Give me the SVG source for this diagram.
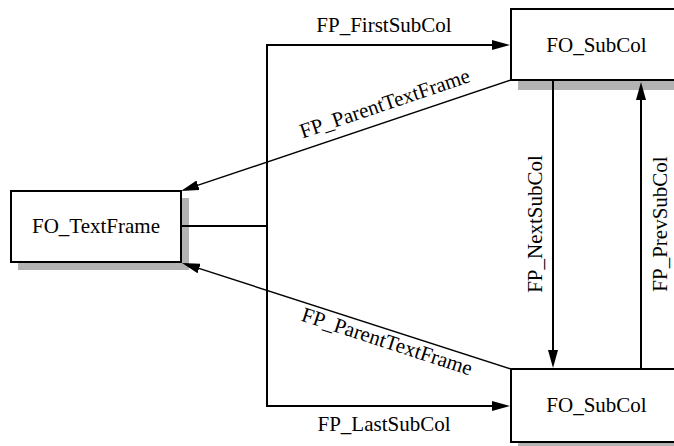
<svg xmlns="http://www.w3.org/2000/svg" width="674" height="446" viewBox="0 0 674 446">
<defs>
<marker id="ah" viewBox="0 0 18 10" refX="14" refY="5" markerWidth="18" markerHeight="10" markerUnits="userSpaceOnUse" orient="auto-start-reverse"><path d="M0,0 L18,5 L0,10 z" fill="#000"/></marker>
</defs>
<style>
.shadow{fill:#b3b3b3}
.box{fill:#fff;stroke:#000;stroke-width:2}
.t{font-size:21px;fill:#000;text-anchor:middle}
.c{fill:none;stroke:#000;stroke-width:2}
.d{fill:none;stroke:#000;stroke-width:1.4}
</style>
<rect width="674" height="446" fill="#fff"/>
<g font-family="'Liberation Serif', 'DejaVu Serif', serif">
<g id="FO_TextFrame">
<rect class="shadow" x="18" y="198" width="171" height="72"/>
<rect class="box" x="11" y="191" width="170" height="71"/>
<text class="t" x="96" y="233">FO_TextFrame</text>
</g>
<g id="FO_SubCol_top">
<rect class="shadow" x="518" y="17" width="171" height="73"/>
<rect class="box" x="511" y="9" width="171" height="71"/>
<text class="t" x="596.5" y="52">FO_SubCol</text>
</g>
<g id="FO_SubCol_bottom">
<rect class="shadow" x="518" y="377" width="171" height="72"/>
<rect class="box" x="511" y="369" width="171" height="73"/>
<text class="t" x="596.5" y="412">FO_SubCol</text>
</g>
<g id="connectors">
<path class="c" d="M181,226 H267"/>
<path class="c" d="M506,45 H267 V406 H506" marker-start="url(#ah)" marker-end="url(#ah)"/>
<path class="d" d="M511,80 L184.8,189.7" marker-end="url(#ah)"/>
<path class="d" d="M511,369 L185.8,264.2" marker-end="url(#ah)"/>
<path class="c" d="M553,81 V364" marker-end="url(#ah)"/>
<path class="c" d="M641,369 V86" marker-end="url(#ah)"/>
<text class="t" x="384" y="32">FP_FirstSubCol</text>
<text class="t" x="384" y="431">FP_LastSubCol</text>
<text class="t" transform="translate(542,224) rotate(-90)">FP_NextSubCol</text>
<text class="t" transform="translate(667,224) rotate(-90)">FP_PrevSubCol</text>
<text class="t" transform="translate(387,110) rotate(-18.6)">FP_ParentTextFrame</text>
<text class="t" transform="translate(385,348) rotate(18)">FP_ParentTextFrame</text>
</g>
</g>
</svg>
